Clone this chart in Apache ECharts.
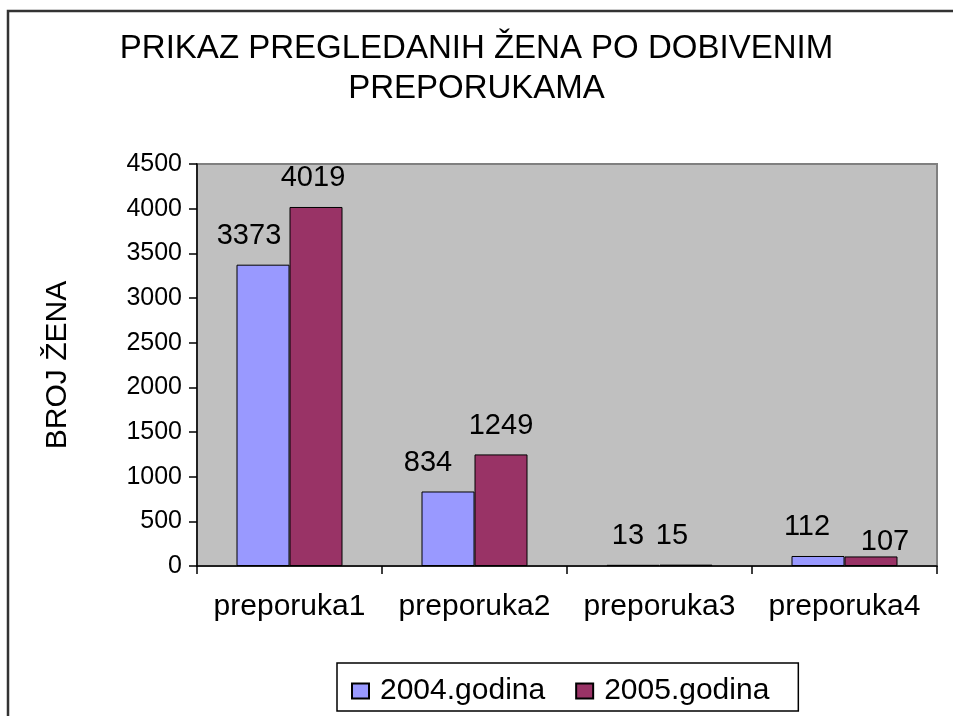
<!DOCTYPE html>
<html>
<head>
<meta charset="utf-8">
<style>
  html, body { margin: 0; padding: 0; background: #fff; }
  #chart { width: 953px; height: 716px; }
</style>
<script src="https://cdn.jsdelivr.net/npm/echarts@6/dist/echarts.min.js"></script>
</head>
<body>
<div id="chart"></div>
<script>
  var categories = ['preporuka1', 'preporuka2', 'preporuka3', 'preporuka4'];
  var seriesNames = ['2004.godina', '2005.godina'];
  var values2004 = [3373, 834, 13, 112];
  var values2005 = [4019, 1249, 15, 107];
  var yTicks = { min: 0, max: 4500, interval: 500 };

  // small label nudges, like Excel's overlap avoidance in the original
  var labelNudge2004 = [[-14, 0], [-20, 0], [-5, 0], [-11, 0]];
  var labelNudge2005 = [[-3, 0], [0, 0], [-14, 0], [14, 14]];

  var font = '"Liberation Sans", Arial, sans-serif';

  var chart = echarts.init(document.getElementById('chart'));

  function barSeries(name, values, nudges, color) {
    return {
      name: name,
      type: 'bar',
      barWidth: 53,
      barGap: '0%',
      data: values.map(function (v, i) {
        return { value: v, label: { offset: nudges[i] } };
      }),
      itemStyle: { color: color, borderColor: '#000', borderWidth: 1 },
      label: {
        show: true,
        position: 'top',
        distance: 14,
        color: '#000',
        fontFamily: font,
        fontSize: 29
      },
      animation: false
    };
  }

  chart.setOption({
    backgroundColor: '#fff',
    title: {
      text: 'PRIKAZ PREGLEDANIH ŽENA PO DOBIVENIM\nPREPORUKAMA',
      left: 'center',
      top: 29,
      padding: [0, 0, 0, 22],
      textStyle: {
        fontFamily: font,
        fontSize: 33,
        fontWeight: 'normal',
        color: '#000',
        lineHeight: 40
      }
    },
    legend: {
      data: seriesNames,
      left: 337,
      top: 663,
      orient: 'horizontal',
      icon: 'rect',
      itemWidth: 17,
      itemHeight: 15,
      itemGap: 30,
      padding: [13, 29, 5, 14],
      borderColor: '#000',
      borderWidth: 1.5,
      textStyle: { fontFamily: font, fontSize: 30, color: '#000', padding: [0, 0, 0, 6] }
    },
    grid: {
      left: 197,
      top: 164,
      width: 740,
      height: 402,
      show: true,
      backgroundColor: '#c0c0c0',
      borderColor: '#808080',
      borderWidth: 2
    },
    xAxis: {
      type: 'category',
      data: categories,
      axisLine: { lineStyle: { color: '#000', width: 1.5 } },
      axisTick: { show: true, length: 8, lineStyle: { color: '#000', width: 1.5 } },
      axisLabel: { color: '#000', fontFamily: font, fontSize: 30, margin: 26, interval: 0 },
      splitLine: { show: false }
    },
    yAxis: {
      type: 'value',
      min: yTicks.min,
      max: yTicks.max,
      interval: yTicks.interval,
      name: 'BROJ ŽENA',
      nameLocation: 'middle',
      nameGap: 124,
      nameTextStyle: { color: '#000', fontFamily: font, fontSize: 30 },
      axisLine: { show: true, lineStyle: { color: '#000', width: 1.5 } },
      axisTick: { show: true, length: 8, lineStyle: { color: '#000', width: 1.5 } },
      axisLabel: {
        color: '#000', fontFamily: font, fontSize: 25, margin: 15,
        formatter: function (v) { return String(v); }
      },
      splitLine: { show: false }
    },
    graphic: [{
      type: 'rect',
      shape: { x: 8, y: 11, width: 1000, height: 800 },
      style: { fill: 'none', stroke: '#333', lineWidth: 2.5 },
      silent: true
    }],
    series: [
      barSeries(seriesNames[0], values2004, labelNudge2004, '#9999ff'),
      barSeries(seriesNames[1], values2005, labelNudge2005, '#993366')
    ]
  });
</script>
</body>
</html>
